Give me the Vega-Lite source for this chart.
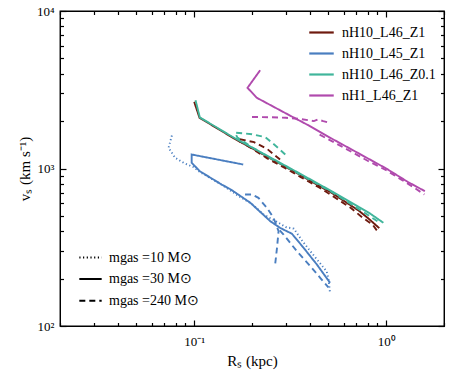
{
  "$schema": "https://vega.github.io/schema/vega-lite/v6.json",
  "width": 384,
  "height": 315,
  "autosize": "none",
  "padding": {"left": 60, "top": 11, "right": 14, "bottom": 49},
  "background": "white",
  "config": {
    "view": {"stroke": "black", "strokeWidth": 1.3},
    "font": "Liberation Serif",
    "legend": {"labelFont": "Liberation Serif", "labelColor": "black"}
  },
  "datasets": {
    "pts": [
      {"sim": "nH10_L46_Z1", "m": "30", "seg": "a", "o": 0, "R": 0.1, "v": 2650},
      {"sim": "nH10_L46_Z1", "m": "30", "seg": "a", "o": 1, "R": 0.1066, "v": 2100},
      {"sim": "nH10_L46_Z1", "m": "30", "seg": "a", "o": 2, "R": 0.16, "v": 1560},
      {"sim": "nH10_L46_Z1", "m": "30", "seg": "a", "o": 3, "R": 0.24, "v": 1190},
      {"sim": "nH10_L46_Z1", "m": "30", "seg": "a", "o": 4, "R": 0.357, "v": 910},
      {"sim": "nH10_L46_Z1", "m": "30", "seg": "a", "o": 5, "R": 0.53, "v": 690},
      {"sim": "nH10_L46_Z1", "m": "30", "seg": "a", "o": 6, "R": 0.72, "v": 540},
      {"sim": "nH10_L46_Z1", "m": "30", "seg": "a", "o": 7, "R": 0.81, "v": 480},
      {"sim": "nH10_L46_Z1", "m": "30", "seg": "a", "o": 8, "R": 0.92, "v": 418},
      {"sim": "nH10_L46_Z1", "m": "240", "seg": "a", "o": 0, "R": 0.28, "v": 1140},
      {"sim": "nH10_L46_Z1", "m": "240", "seg": "a", "o": 1, "R": 0.24, "v": 1330},
      {"sim": "nH10_L46_Z1", "m": "240", "seg": "a", "o": 2, "R": 0.205, "v": 1470},
      {"sim": "nH10_L46_Z1", "m": "240", "seg": "a", "o": 3, "R": 0.168, "v": 1545},
      {"sim": "nH10_L46_Z1", "m": "240", "seg": "a", "o": 4, "R": 0.172, "v": 1490},
      {"sim": "nH10_L46_Z1", "m": "240", "seg": "a", "o": 5, "R": 0.2, "v": 1340},
      {"sim": "nH10_L46_Z1", "m": "240", "seg": "a", "o": 6, "R": 0.24, "v": 1160},
      {"sim": "nH10_L46_Z1", "m": "240", "seg": "a", "o": 7, "R": 0.3, "v": 1000},
      {"sim": "nH10_L46_Z1", "m": "240", "seg": "a", "o": 8, "R": 0.357, "v": 885},
      {"sim": "nH10_L46_Z1", "m": "240", "seg": "a", "o": 9, "R": 0.45, "v": 755},
      {"sim": "nH10_L46_Z1", "m": "240", "seg": "a", "o": 10, "R": 0.53, "v": 665},
      {"sim": "nH10_L46_Z1", "m": "240", "seg": "a", "o": 11, "R": 0.65, "v": 565},
      {"sim": "nH10_L46_Z1", "m": "240", "seg": "a", "o": 12, "R": 0.75, "v": 490},
      {"sim": "nH10_L46_Z1", "m": "240", "seg": "a", "o": 13, "R": 0.85, "v": 440},
      {"sim": "nH10_L46_Z1", "m": "240", "seg": "a", "o": 14, "R": 0.9, "v": 400},

      {"sim": "nH10_L45_Z1", "m": "10", "seg": "a", "o": 0, "R": 0.0765, "v": 1620},
      {"sim": "nH10_L45_Z1", "m": "10", "seg": "a", "o": 1, "R": 0.0735, "v": 1353},
      {"sim": "nH10_L45_Z1", "m": "10", "seg": "a", "o": 2, "R": 0.0796, "v": 1169},
      {"sim": "nH10_L45_Z1", "m": "10", "seg": "a", "o": 3, "R": 0.088, "v": 1087},
      {"sim": "nH10_L45_Z1", "m": "10", "seg": "a", "o": 4, "R": 0.0992, "v": 1020},
      {"sim": "nH10_L45_Z1", "m": "10", "seg": "a", "o": 5, "R": 0.107, "v": 950},
      {"sim": "nH10_L45_Z1", "m": "10", "seg": "a", "o": 6, "R": 0.14, "v": 785},
      {"sim": "nH10_L45_Z1", "m": "10", "seg": "a", "o": 7, "R": 0.17, "v": 670},
      {"sim": "nH10_L45_Z1", "m": "10", "seg": "a", "o": 8, "R": 0.2, "v": 595},
      {"sim": "nH10_L45_Z1", "m": "10", "seg": "a", "o": 9, "R": 0.23, "v": 510},
      {"sim": "nH10_L45_Z1", "m": "10", "seg": "a", "o": 10, "R": 0.26, "v": 470},
      {"sim": "nH10_L45_Z1", "m": "10", "seg": "a", "o": 11, "R": 0.3, "v": 425},
      {"sim": "nH10_L45_Z1", "m": "10", "seg": "a", "o": 12, "R": 0.33, "v": 415},
      {"sim": "nH10_L45_Z1", "m": "10", "seg": "a", "o": 13, "R": 0.37, "v": 340},
      {"sim": "nH10_L45_Z1", "m": "10", "seg": "a", "o": 14, "R": 0.43, "v": 270},
      {"sim": "nH10_L45_Z1", "m": "10", "seg": "a", "o": 15, "R": 0.49, "v": 222},
      {"sim": "nH10_L45_Z1", "m": "10", "seg": "a", "o": 16, "R": 0.5, "v": 200},
      {"sim": "nH10_L45_Z1", "m": "10", "seg": "a", "o": 17, "R": 0.51, "v": 162},
      {"sim": "nH10_L45_Z1", "m": "30", "seg": "a", "o": 0, "R": 0.18, "v": 1060},
      {"sim": "nH10_L45_Z1", "m": "30", "seg": "a", "o": 1, "R": 0.097, "v": 1227},
      {"sim": "nH10_L45_Z1", "m": "30", "seg": "a", "o": 2, "R": 0.097, "v": 1087},
      {"sim": "nH10_L45_Z1", "m": "30", "seg": "a", "o": 3, "R": 0.107, "v": 961},
      {"sim": "nH10_L45_Z1", "m": "30", "seg": "a", "o": 4, "R": 0.139, "v": 791},
      {"sim": "nH10_L45_Z1", "m": "30", "seg": "a", "o": 5, "R": 0.155, "v": 736},
      {"sim": "nH10_L45_Z1", "m": "30", "seg": "a", "o": 6, "R": 0.196, "v": 606},
      {"sim": "nH10_L45_Z1", "m": "30", "seg": "a", "o": 7, "R": 0.249, "v": 463},
      {"sim": "nH10_L45_Z1", "m": "30", "seg": "a", "o": 8, "R": 0.28, "v": 420},
      {"sim": "nH10_L45_Z1", "m": "30", "seg": "a", "o": 9, "R": 0.323, "v": 385},
      {"sim": "nH10_L45_Z1", "m": "30", "seg": "a", "o": 10, "R": 0.371, "v": 314},
      {"sim": "nH10_L45_Z1", "m": "30", "seg": "a", "o": 11, "R": 0.435, "v": 246},
      {"sim": "nH10_L45_Z1", "m": "30", "seg": "a", "o": 12, "R": 0.51, "v": 188},
      {"sim": "nH10_L45_Z1", "m": "240", "seg": "a", "o": 0, "R": 0.184, "v": 684},
      {"sim": "nH10_L45_Z1", "m": "240", "seg": "a", "o": 1, "R": 0.2, "v": 684},
      {"sim": "nH10_L45_Z1", "m": "240", "seg": "a", "o": 2, "R": 0.216, "v": 651},
      {"sim": "nH10_L45_Z1", "m": "240", "seg": "a", "o": 3, "R": 0.239, "v": 563},
      {"sim": "nH10_L45_Z1", "m": "240", "seg": "a", "o": 4, "R": 0.259, "v": 486},
      {"sim": "nH10_L45_Z1", "m": "240", "seg": "a", "o": 5, "R": 0.275, "v": 400},
      {"sim": "nH10_L45_Z1", "m": "240", "seg": "a", "o": 6, "R": 0.27, "v": 314},
      {"sim": "nH10_L45_Z1", "m": "240", "seg": "a", "o": 7, "R": 0.264, "v": 246},
      {"sim": "nH10_L45_Z1", "m": "240", "seg": "b", "o": 0, "R": 0.279, "v": 405},
      {"sim": "nH10_L45_Z1", "m": "240", "seg": "b", "o": 1, "R": 0.292, "v": 381},
      {"sim": "nH10_L45_Z1", "m": "240", "seg": "b", "o": 2, "R": 0.342, "v": 299},
      {"sim": "nH10_L45_Z1", "m": "240", "seg": "b", "o": 3, "R": 0.401, "v": 241},
      {"sim": "nH10_L45_Z1", "m": "240", "seg": "b", "o": 4, "R": 0.452, "v": 203},
      {"sim": "nH10_L45_Z1", "m": "240", "seg": "b", "o": 5, "R": 0.5, "v": 176},

      {"sim": "nH10_L46_Z0.1", "m": "30", "seg": "a", "o": 0, "R": 0.1016, "v": 2713},
      {"sim": "nH10_L46_Z0.1", "m": "30", "seg": "a", "o": 1, "R": 0.107, "v": 2110},
      {"sim": "nH10_L46_Z0.1", "m": "30", "seg": "a", "o": 2, "R": 0.16, "v": 1575},
      {"sim": "nH10_L46_Z0.1", "m": "30", "seg": "a", "o": 3, "R": 0.24, "v": 1205},
      {"sim": "nH10_L46_Z0.1", "m": "30", "seg": "a", "o": 4, "R": 0.357, "v": 925},
      {"sim": "nH10_L46_Z0.1", "m": "30", "seg": "a", "o": 5, "R": 0.53, "v": 708},
      {"sim": "nH10_L46_Z0.1", "m": "30", "seg": "a", "o": 6, "R": 0.72, "v": 570},
      {"sim": "nH10_L46_Z0.1", "m": "30", "seg": "a", "o": 7, "R": 0.82, "v": 520},
      {"sim": "nH10_L46_Z0.1", "m": "30", "seg": "a", "o": 8, "R": 0.967, "v": 452},
      {"sim": "nH10_L46_Z0.1", "m": "240", "seg": "a", "o": 0, "R": 0.298, "v": 1227},
      {"sim": "nH10_L46_Z0.1", "m": "240", "seg": "a", "o": 1, "R": 0.27, "v": 1370},
      {"sim": "nH10_L46_Z0.1", "m": "240", "seg": "a", "o": 2, "R": 0.235, "v": 1580},
      {"sim": "nH10_L46_Z0.1", "m": "240", "seg": "a", "o": 3, "R": 0.2, "v": 1650},
      {"sim": "nH10_L46_Z0.1", "m": "240", "seg": "a", "o": 4, "R": 0.163, "v": 1690},
      {"sim": "nH10_L46_Z0.1", "m": "240", "seg": "a", "o": 5, "R": 0.168, "v": 1570},
      {"sim": "nH10_L46_Z0.1", "m": "240", "seg": "a", "o": 6, "R": 0.2, "v": 1365},
      {"sim": "nH10_L46_Z0.1", "m": "240", "seg": "a", "o": 7, "R": 0.24, "v": 1195},
      {"sim": "nH10_L46_Z0.1", "m": "240", "seg": "a", "o": 8, "R": 0.357, "v": 915},
      {"sim": "nH10_L46_Z0.1", "m": "240", "seg": "a", "o": 9, "R": 0.53, "v": 700},
      {"sim": "nH10_L46_Z0.1", "m": "240", "seg": "a", "o": 10, "R": 0.75, "v": 535},
      {"sim": "nH10_L46_Z0.1", "m": "240", "seg": "a", "o": 11, "R": 0.9, "v": 462},

      {"sim": "nH1_L46_Z1", "m": "30", "seg": "a", "o": 0, "R": 0.2206, "v": 4207},
      {"sim": "nH1_L46_Z1", "m": "30", "seg": "a", "o": 1, "R": 0.1895, "v": 3253},
      {"sim": "nH1_L46_Z1", "m": "30", "seg": "a", "o": 2, "R": 0.212, "v": 2810},
      {"sim": "nH1_L46_Z1", "m": "30", "seg": "a", "o": 3, "R": 0.3, "v": 2240},
      {"sim": "nH1_L46_Z1", "m": "30", "seg": "a", "o": 4, "R": 0.4, "v": 1860},
      {"sim": "nH1_L46_Z1", "m": "30", "seg": "a", "o": 5, "R": 0.5, "v": 1590},
      {"sim": "nH1_L46_Z1", "m": "30", "seg": "a", "o": 6, "R": 0.7, "v": 1270},
      {"sim": "nH1_L46_Z1", "m": "30", "seg": "a", "o": 7, "R": 1.0, "v": 1000},
      {"sim": "nH1_L46_Z1", "m": "30", "seg": "a", "o": 8, "R": 1.3, "v": 820},
      {"sim": "nH1_L46_Z1", "m": "30", "seg": "a", "o": 9, "R": 1.59, "v": 718},
      {"sim": "nH1_L46_Z1", "m": "240", "seg": "a", "o": 0, "R": 0.2, "v": 2125},
      {"sim": "nH1_L46_Z1", "m": "240", "seg": "a", "o": 1, "R": 0.25, "v": 2115},
      {"sim": "nH1_L46_Z1", "m": "240", "seg": "a", "o": 2, "R": 0.3, "v": 2100},
      {"sim": "nH1_L46_Z1", "m": "240", "seg": "a", "o": 3, "R": 0.36, "v": 2060},
      {"sim": "nH1_L46_Z1", "m": "240", "seg": "a", "o": 4, "R": 0.42, "v": 2000},
      {"sim": "nH1_L46_Z1", "m": "240", "seg": "a", "o": 5, "R": 0.44, "v": 2050},
      {"sim": "nH1_L46_Z1", "m": "240", "seg": "a", "o": 6, "R": 0.47, "v": 2000},
      {"sim": "nH1_L46_Z1", "m": "240", "seg": "a", "o": 7, "R": 0.51, "v": 1950},
      {"sim": "nH1_L46_Z1", "m": "240", "seg": "b", "o": 0, "R": 0.45, "v": 1640},
      {"sim": "nH1_L46_Z1", "m": "240", "seg": "b", "o": 1, "R": 0.6, "v": 1360},
      {"sim": "nH1_L46_Z1", "m": "240", "seg": "b", "o": 2, "R": 0.8, "v": 1120},
      {"sim": "nH1_L46_Z1", "m": "240", "seg": "b", "o": 3, "R": 1.0, "v": 975},
      {"sim": "nH1_L46_Z1", "m": "240", "seg": "b", "o": 4, "R": 1.2, "v": 850},
      {"sim": "nH1_L46_Z1", "m": "240", "seg": "b", "o": 5, "R": 1.4, "v": 755},
      {"sim": "nH1_L46_Z1", "m": "240", "seg": "b", "o": 6, "R": 1.58, "v": 684}
    ]
  },
  "data": {"name": "pts"},
  "layer": [
    {
      "mark": {"type": "line", "strokeWidth": 1.9, "clip": true},
      "encoding": {
        "x": {
          "field": "R", "type": "quantitative",
          "scale": {"type": "log", "domain": [0.02, 2], "nice": false},
          "title": "Rₛ (kpc)",
          "axis": {
            "orient": "bottom",
            "tickCount": 10,
            "labelExpr": "abs(datum.value - 0.1) < 1e-9 ? '10⁻¹' : abs(datum.value - 1) < 1e-9 ? '10⁰' : ''",
            "labelFont": "Liberation Serif", "labelColor": "black",
            "labelFontSize": 13, "labelPadding": 15,
            "tickSize": {"condition": {"test": "abs(datum.value - 0.1) < 1e-9 || abs(datum.value - 1) < 1e-9", "value": -6}, "value": -3.5},
            "tickColor": "black", "tickWidth": 1.2,
            "gridOpacity": 0, "domainColor": "black",
            "titleFont": "Liberation Serif", "titleColor": "black", "titleFontWeight": "normal",
            "titleFontSize": 15, "titlePadding": 5
          }
        },
        "y": {
          "field": "v", "type": "quantitative",
          "scale": {"type": "log", "domain": [100, 10000], "nice": false},
          "title": "vₛ (km s⁻¹)",
          "axis": {
            "orient": "left",
            "tickCount": 10,
            "labelExpr": "abs(datum.value - 100) < 1e-6 ? '10²' : abs(datum.value - 1000) < 1e-6 ? '10³' : abs(datum.value - 10000) < 1e-6 ? '10⁴' : ''",
            "labelFont": "Liberation Serif", "labelColor": "black",
            "labelFontSize": 13, "labelPadding": 12,
            "tickSize": {"condition": {"test": "abs(datum.value - 100) < 1e-6 || abs(datum.value - 1000) < 1e-6 || abs(datum.value - 10000) < 1e-6", "value": -6}, "value": -3.5},
            "tickColor": "black", "tickWidth": 1.2,
            "gridOpacity": 0, "domainColor": "black",
            "titleFont": "Liberation Serif", "titleColor": "black", "titleFontWeight": "normal",
            "titleFontSize": 15, "titlePadding": 4
          }
        },
        "color": {
          "field": "sim", "type": "nominal",
          "scale": {"domain": ["nH10_L46_Z1", "nH10_L45_Z1", "nH10_L46_Z0.1", "nH1_L46_Z1"], "range": ["#6e1a0e", "#4a7ec0", "#40b59b", "#b04aad"]},
          "legend": {"orient": "top-right", "title": null, "symbolType": "stroke", "symbolSize": 600, "symbolStrokeWidth": 2.2, "labelFont": "Liberation Serif", "labelFontSize": 14, "rowPadding": -4, "offset": 6, "padding": 2, "labelOffset": 7}
        },
        "strokeDash": {
          "field": "m", "type": "nominal",
          "scale": {"domain": ["10", "30", "240"], "range": [[1.2, 2.5], [1, 0], [6, 4]]},
          "legend": {"orient": "bottom-left", "title": null, "symbolType": "stroke", "symbolSize": 500, "symbolStrokeWidth": 2, "symbolStrokeColor": "black", "labelFont": "Liberation Serif", "labelFontSize": 14, "rowPadding": 1.6, "offset": 16, "padding": 2, "labelOffset": 6, "labelExpr": "'mgas =' + datum.label + ' M⊙'"}
        },
        "detail": {"field": "seg"},
        "order": {"field": "o", "type": "quantitative"}
      }
    },
    {
      "mark": {"type": "line", "opacity": 0},
      "encoding": {
        "x": {
          "field": "R", "type": "quantitative",
          "scale": {"type": "log", "domain": [0.02, 2], "nice": false},
          "axis": {
            "orient": "top", "title": null, "labels": false, "gridOpacity": 0,
            "tickCount": 10,
            "tickSize": {"condition": {"test": "abs(datum.value - 0.1) < 1e-9 || abs(datum.value - 1) < 1e-9", "value": -6}, "value": -3.5},
            "tickColor": "black", "tickWidth": 1.2, "domainColor": "black"
          }
        },
        "y": {
          "field": "v", "type": "quantitative",
          "scale": {"type": "log", "domain": [100, 10000], "nice": false},
          "axis": {
            "orient": "right", "title": null, "labels": false, "gridOpacity": 0,
            "tickCount": 10,
            "tickSize": {"condition": {"test": "abs(datum.value - 100) < 1e-6 || abs(datum.value - 1000) < 1e-6 || abs(datum.value - 10000) < 1e-6", "value": -6}, "value": -3.5},
            "tickColor": "black", "tickWidth": 1.2, "domainColor": "black"
          }
        }
      }
    }
  ],
  "resolve": {"axis": {"x": "independent", "y": "independent"}}
}
